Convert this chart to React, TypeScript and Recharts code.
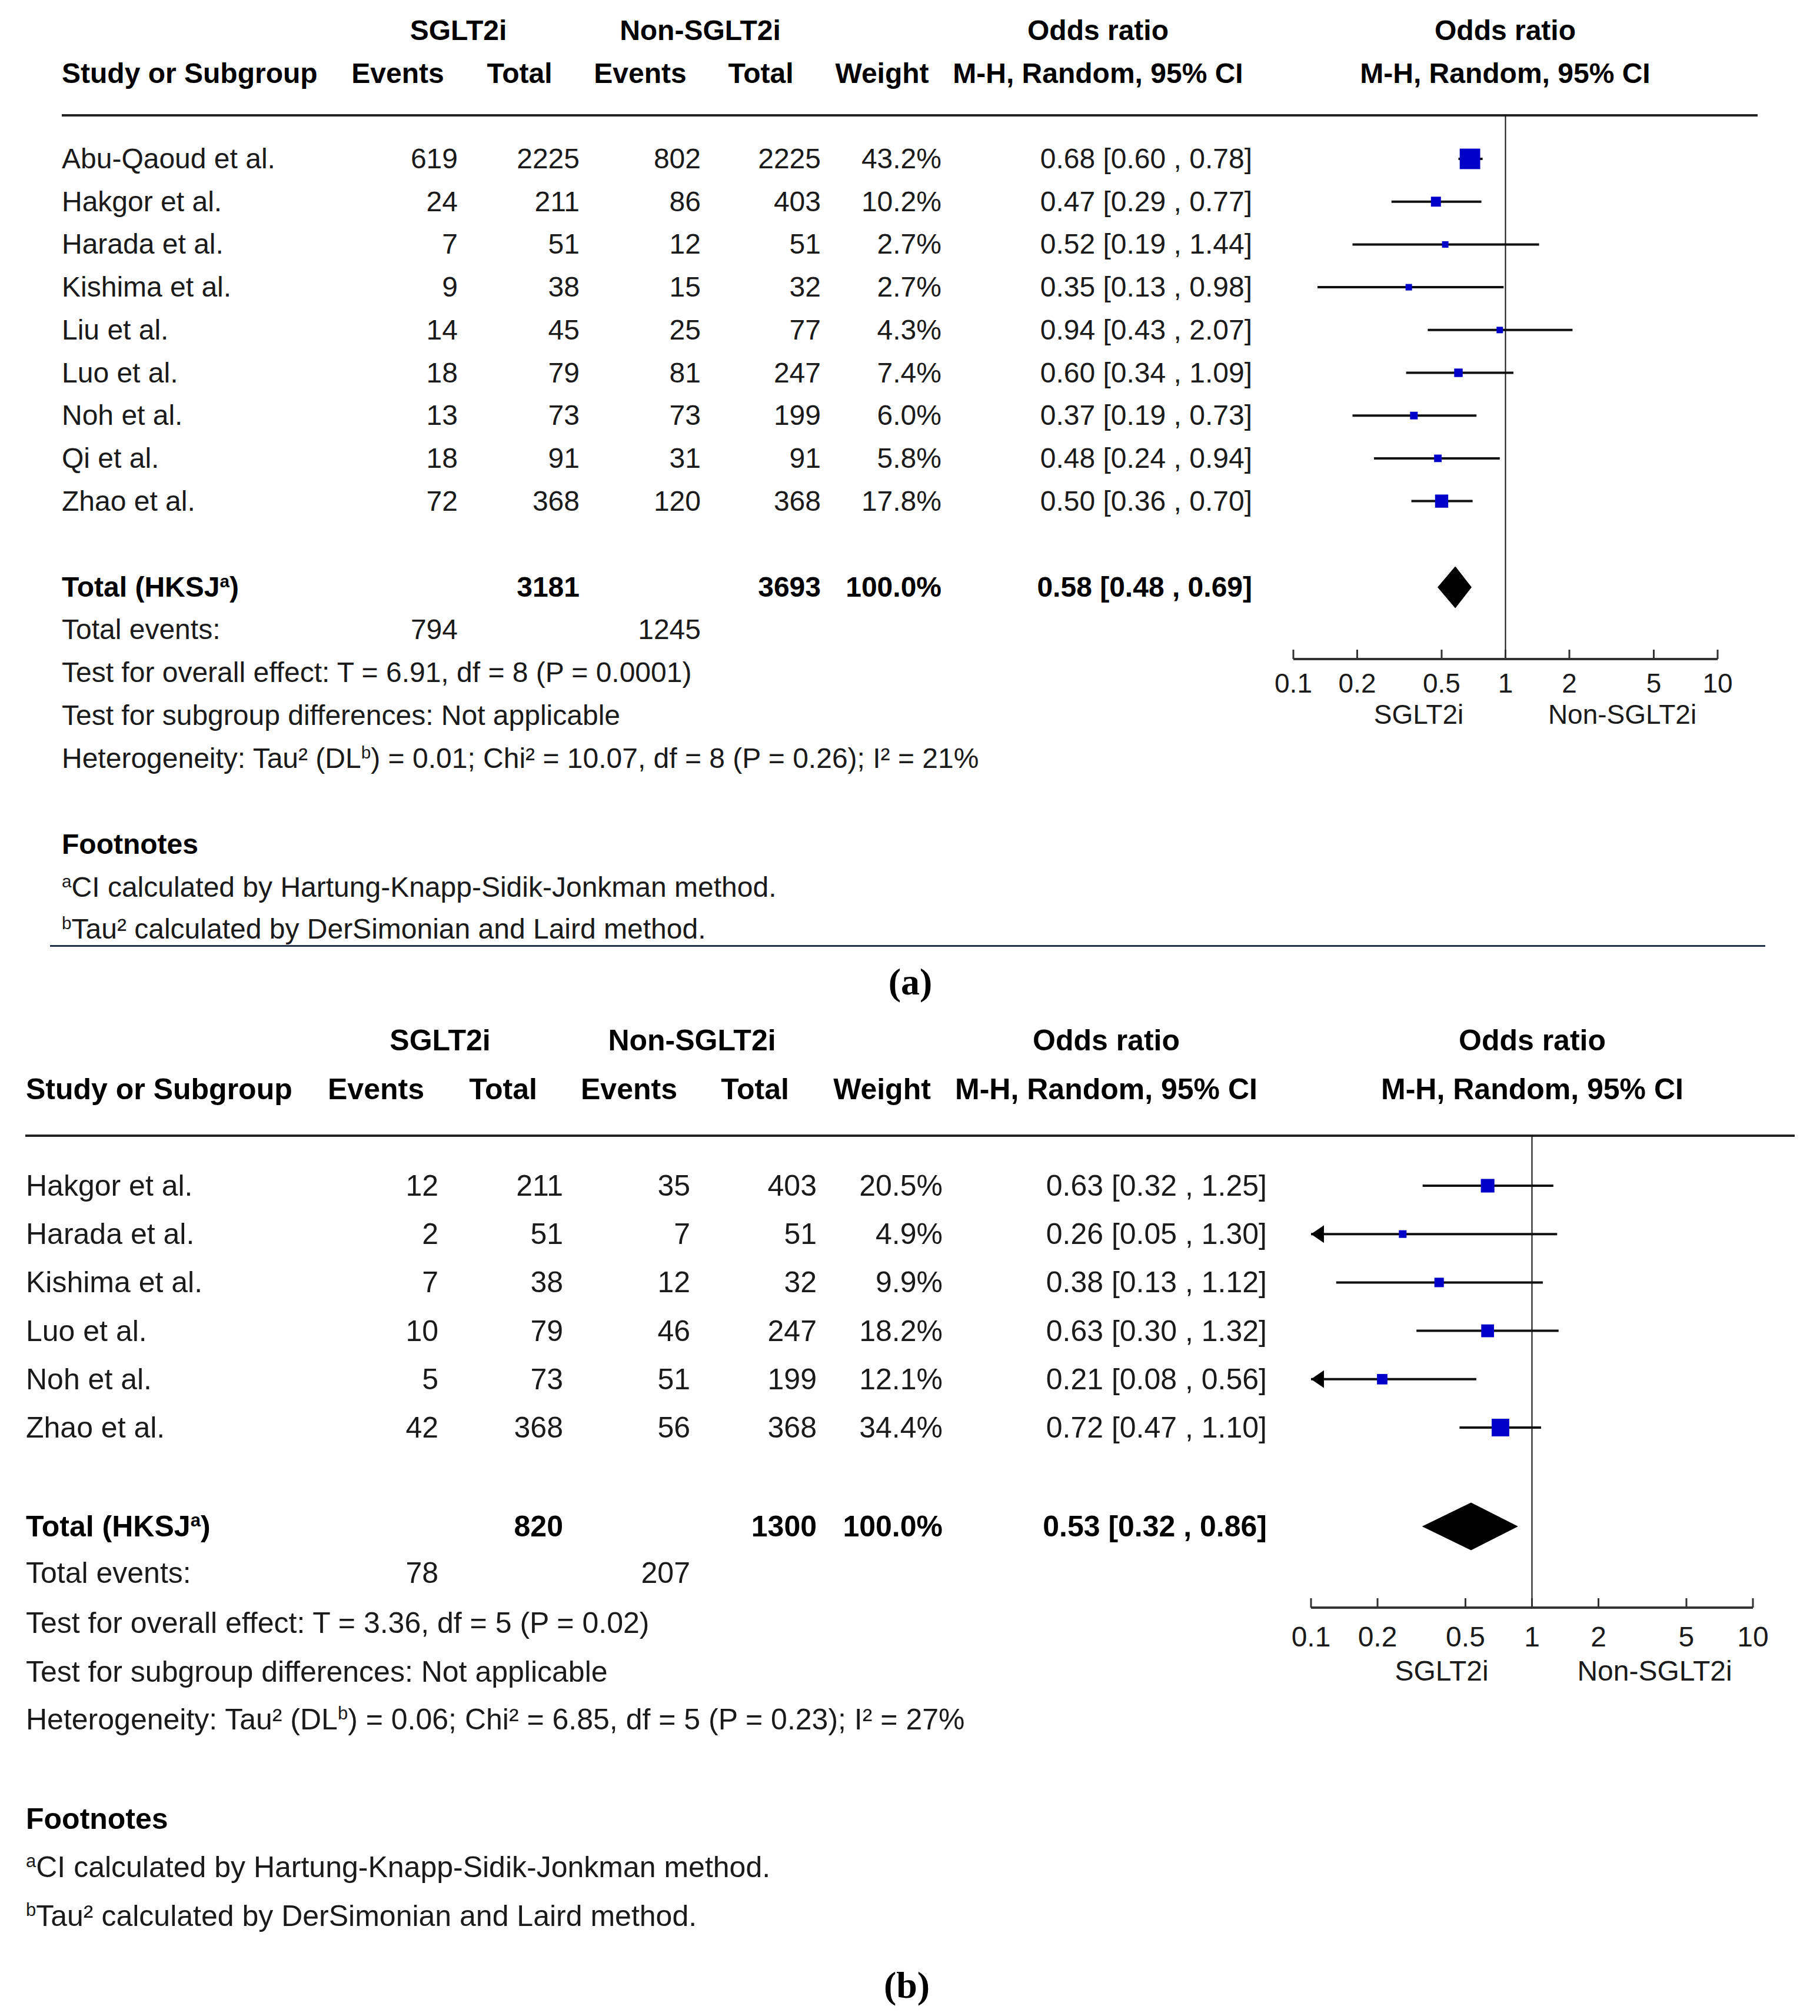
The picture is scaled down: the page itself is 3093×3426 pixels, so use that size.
import React from 'react';
import { ScatterChart, Scatter, XAxis, YAxis, ReferenceLine } from 'recharts';

const FONT = '"Liberation Sans", Arial, sans-serif';
const SERIF = '"Liberation Serif", "Times New Roman", serif';
const INK = '#1a1a1a';
const BLUE = '#0000c8';

const OR_TICKS = [0.1, 0.2, 0.5, 1, 2, 5, 10];
const SIDE_LABELS = ['SGLT2i', 'Non-SGLT2i'];
const HEAD_GROUPS = ['SGLT2i', 'Non-SGLT2i', 'Odds ratio', 'Odds ratio'];
const HEAD_COLS = ['Study or Subgroup', 'Events', 'Total', 'Events', 'Total', 'Weight', 'M-H, Random, 95% CI', 'M-H, Random, 95% CI'];
const FOOTNOTES = ['^aCI calculated by Hartung-Knapp-Sidik-Jonkman method.', '^bTau² calculated by DerSimonian and Laird method.'];

// panel (a)
const STUDIES_A = ['Abu-Qaoud et al.', 'Hakgor et al.', 'Harada et al.', 'Kishima et al.', 'Liu et al.', 'Luo et al.', 'Noh et al.', 'Qi et al.', 'Zhao et al.'];
const SGLT_EVENTS_A = [619, 24, 7, 9, 14, 18, 13, 18, 72];
const SGLT_TOTAL_A = [2225, 211, 51, 38, 45, 79, 73, 91, 368];
const NON_EVENTS_A = [802, 86, 12, 15, 25, 81, 73, 31, 120];
const NON_TOTAL_A = [2225, 403, 51, 32, 77, 247, 199, 91, 368];
const WEIGHT_A = [43.2, 10.2, 2.7, 2.7, 4.3, 7.4, 6.0, 5.8, 17.8];
const OR_A = [0.68, 0.47, 0.52, 0.35, 0.94, 0.6, 0.37, 0.48, 0.5];
const LO_A = [0.6, 0.29, 0.19, 0.13, 0.43, 0.34, 0.19, 0.24, 0.36];
const HI_A = [0.78, 0.77, 1.44, 0.98, 2.07, 1.09, 0.73, 0.94, 0.7];
const POOLED_A = [0.58, 0.48, 0.69];
const TOTALS_A = [3181, 3693];
const EVENT_SUMS_A = [794, 1245];
const STATS_A = [
  'Test for overall effect: T = 6.91, df = 8 (P = 0.0001)',
  'Test for subgroup differences: Not applicable',
  'Heterogeneity: Tau² (DL^b) = 0.01; Chi² = 10.07, df = 8 (P = 0.26); I² = 21%',
];

// panel (b)
const STUDIES_B = ['Hakgor et al.', 'Harada et al.', 'Kishima et al.', 'Luo et al.', 'Noh et al.', 'Zhao et al.'];
const SGLT_EVENTS_B = [12, 2, 7, 10, 5, 42];
const SGLT_TOTAL_B = [211, 51, 38, 79, 73, 368];
const NON_EVENTS_B = [35, 7, 12, 46, 51, 56];
const NON_TOTAL_B = [403, 51, 32, 247, 199, 368];
const WEIGHT_B = [20.5, 4.9, 9.9, 18.2, 12.1, 34.4];
const OR_B = [0.63, 0.26, 0.38, 0.63, 0.21, 0.72];
const LO_B = [0.32, 0.05, 0.13, 0.3, 0.08, 0.47];
const HI_B = [1.25, 1.3, 1.12, 1.32, 0.56, 1.1];
const POOLED_B = [0.53, 0.32, 0.86];
const TOTALS_B = [820, 1300];
const EVENT_SUMS_B = [78, 207];
const STATS_B = [
  'Test for overall effect: T = 3.36, df = 5 (P = 0.02)',
  'Test for subgroup differences: Not applicable',
  'Heterogeneity: Tau² (DL^b) = 0.06; Chi² = 6.85, df = 5 (P = 0.23); I² = 27%',
];

const LAYOUT_A = {
  fs: 48, axisFs: 46, head1: 52, head2: 125, lineY: 196, lineX0: 105, lineX1: 2987,
  studyX: 105, right: [778, 985, 1191, 1395, 1600, 2128],
  heads: [676, 883, 1088, 1293, 1499, 1866, 2558], groups: [779, 1190, 1866, 2558],
  rowY0: 270, rowStep: 72.7, totalY: 998, eventsY: 1070, statsY: [1143, 1216, 1289],
  footY: 1435, fnY: [1508, 1579], x01: 2198, x10: 2919, axisY: 1120, tickY: 1161,
  sideY: 1214, sideX: [2411, 2757], tag: '(a)', tagX: 1547, tagY: 1669,
  diamondHalf: 35, sqK: 5.3, sqMin: 11, bottomLine: [1607, 85, 3000],
};

const LAYOUT_B = {
  fs: 50, axisFs: 48, head1: 1768, head2: 1851, lineY: 1930, lineX0: 43, lineX1: 3050,
  studyX: 44, right: [745, 957, 1173, 1388, 1602, 2153],
  heads: [639, 855, 1069, 1283, 1499, 1880, 2604], groups: [748, 1176, 1880, 2604],
  rowY0: 2015, rowStep: 82.2, totalY: 2594, eventsY: 2673, statsY: [2758, 2841, 2922],
  footY: 3091, fnY: [3173, 3256], x01: 2228, x10: 2979, axisY: 2732, tickY: 2781,
  sideY: 2840, sideX: [2450, 2812], tag: '(b)', tagX: 1541, tagY: 3374,
  diamondHalf: 40, sqK: 5.1, sqMin: 13, bottomLine: null as null | number[],
};

function rich(s: string) {
  return s.split(/\^(\w)/).map((p, i) =>
    i % 2 ? (
      <span key={i} style={{ fontSize: '0.62em', position: 'relative', top: '-0.55em' }}>{p}</span>
    ) : (
      <React.Fragment key={i}>{p}</React.Fragment>
    )
  );
}

function Txt({ x, y, size, anchor = 'start', bold = false, children }: any) {
  const tx = anchor === 'start' ? '0' : anchor === 'middle' ? '-50%' : '-100%';
  return (
    <div
      style={{
        position: 'absolute', left: x, top: y, transform: `translate(${tx}, -50%)`,
        fontSize: size, fontWeight: bold ? 700 : 400, lineHeight: 1, whiteSpace: 'nowrap',
        color: bold ? '#000' : INK, fontFamily: FONT,
      }}
    >
      {children}
    </div>
  );
}

function Panel({ L, studies, ev1, tot1, ev2, tot2, w, or, lo, hi, pooled, totals, sums, stats }: any) {
  const fmt = (v: number, l: number, h: number) => `${v.toFixed(2)} [${l.toFixed(2)} , ${h.toFixed(2)}]`;
  const rowY = (i: number) => L.rowY0 + i * L.rowStep;

  // forest plot geometry in row units
  const padX = 90;
  const plotH = L.axisY - L.lineY;
  const yMax = plotH / L.rowStep;
  const rowOff = (L.rowY0 - L.lineY) / L.rowStep;
  const totRow = (L.totalY - L.lineY) / L.rowStep;
  const half = L.diamondHalf / L.rowStep;

  const points = or.map((v: number, i: number) => ({ x: v, y: rowOff + i, w: w[i] }));
  const ciLines = or.map((_: number, i: number) => [
    { x: Math.max(lo[i], 0.1), y: rowOff + i },
    { x: Math.min(hi[i], 10), y: rowOff + i },
  ]);
  const arrows = points.filter((_: any, i: number) => lo[i] < 0.1).map((p: any) => ({ x: 0.1, y: p.y }));
  const diamond = [
    { x: pooled[1], y: totRow },
    { x: pooled[0], y: totRow - half },
    { x: pooled[2], y: totRow },
    { x: pooled[0], y: totRow + half },
    { x: pooled[1], y: totRow },
  ];
  const labelDy = L.tickY - L.axisY + 0.35 * L.axisFs;

  const renderTick = (p: any) => (
    <g>
      <line x1={p.x} x2={p.x} y1={p.y - 16} y2={p.y} stroke="#333" strokeWidth={3} />
      <text x={p.x} y={p.y + labelDy} textAnchor="middle" fontSize={L.axisFs} fill={INK} fontFamily={FONT}>
        {String(p.payload.value)}
      </text>
    </g>
  );

  const cols = [ev1, tot1, ev2, tot2];

  return (
    <>
      {/* headers */}
      {HEAD_GROUPS.map((h, i) => (
        <Txt key={'g' + i} x={L.groups[i]} y={L.head1} size={L.fs} anchor="middle" bold>{h}</Txt>
      ))}
      <Txt x={L.studyX} y={L.head2} size={L.fs} bold>{HEAD_COLS[0]}</Txt>
      {HEAD_COLS.slice(1).map((h, i) => (
        <Txt key={'h' + i} x={L.heads[i]} y={L.head2} size={L.fs} anchor="middle" bold>{h}</Txt>
      ))}
      <div style={{ position: 'absolute', left: L.lineX0, top: L.lineY - 2, width: L.lineX1 - L.lineX0, height: 4, background: '#222' }} />

      {/* study rows */}
      {studies.map((s: string, i: number) => (
        <React.Fragment key={s}>
          <Txt x={L.studyX} y={rowY(i)} size={L.fs}>{s}</Txt>
          {cols.map((c: number[], j: number) => (
            <Txt key={j} x={L.right[j]} y={rowY(i)} size={L.fs} anchor="end">{c[i]}</Txt>
          ))}
          <Txt x={L.right[4]} y={rowY(i)} size={L.fs} anchor="end">{w[i].toFixed(1)}%</Txt>
          <Txt x={L.right[5]} y={rowY(i)} size={L.fs} anchor="end">{fmt(or[i], lo[i], hi[i])}</Txt>
        </React.Fragment>
      ))}

      {/* totals */}
      <Txt x={L.studyX} y={L.totalY} size={L.fs} bold>{rich('Total (HKSJ^a)')}</Txt>
      <Txt x={L.right[1]} y={L.totalY} size={L.fs} anchor="end" bold>{totals[0]}</Txt>
      <Txt x={L.right[3]} y={L.totalY} size={L.fs} anchor="end" bold>{totals[1]}</Txt>
      <Txt x={L.right[4]} y={L.totalY} size={L.fs} anchor="end" bold>100.0%</Txt>
      <Txt x={L.right[5]} y={L.totalY} size={L.fs} anchor="end" bold>{fmt(pooled[0], pooled[1], pooled[2])}</Txt>
      <Txt x={L.studyX} y={L.eventsY} size={L.fs}>Total events:</Txt>
      <Txt x={L.right[0]} y={L.eventsY} size={L.fs} anchor="end">{sums[0]}</Txt>
      <Txt x={L.right[2]} y={L.eventsY} size={L.fs} anchor="end">{sums[1]}</Txt>
      {stats.map((s: string, i: number) => (
        <Txt key={'s' + i} x={L.studyX} y={L.statsY[i]} size={L.fs}>{rich(s)}</Txt>
      ))}
      <Txt x={L.studyX} y={L.footY} size={L.fs} bold>Footnotes</Txt>
      {FOOTNOTES.map((f, i) => (
        <Txt key={'f' + i} x={L.studyX} y={L.fnY[i]} size={L.fs}>{rich(f)}</Txt>
      ))}
      {L.bottomLine && (
        <div style={{ position: 'absolute', left: L.bottomLine[1], top: L.bottomLine[0] - 1.5, width: L.bottomLine[2] - L.bottomLine[1], height: 3, background: '#22304a' }} />
      )}

      {/* forest plot */}
      <div style={{ position: 'absolute', left: L.x01 - padX, top: L.lineY }}>
        <ScatterChart
          width={L.x10 - L.x01 + 2 * padX}
          height={plotH + 110}
          margin={{ top: 0, right: padX, bottom: 0, left: padX }}
        >
          <XAxis
            type="number"
            dataKey="x"
            scale="log"
            domain={[0.1, 10]}
            ticks={OR_TICKS}
            allowDataOverflow
            height={110}
            tickSize={0}
            tickMargin={0}
            tickLine={false}
            axisLine={{ stroke: '#333', strokeWidth: 4 }}
            tick={renderTick}
            interval={0}
          />
          <YAxis type="number" dataKey="y" domain={[0, yMax]} reversed hide allowDataOverflow />
          <ReferenceLine x={1} stroke="#111" strokeWidth={2} />
          {ciLines.map((seg: any[], i: number) => (
            <Scatter
              key={'ci' + i}
              data={seg}
              line={{ stroke: '#111', strokeWidth: 4 }}
              shape={() => <g />}
              isAnimationActive={false}
            />
          ))}
          <Scatter
            data={arrows}
            isAnimationActive={false}
            shape={(p: any) => (
              <polygon points={`${p.cx},${p.cy} ${p.cx + 22},${p.cy - 15} ${p.cx + 22},${p.cy + 15}`} fill="#000" />
            )}
          />
          <Scatter
            data={points}
            isAnimationActive={false}
            shape={(p: any) => {
              const s = Math.max(L.sqMin, L.sqK * Math.sqrt(p.payload.w));
              return <rect x={p.cx - s / 2} y={p.cy - s / 2} width={s} height={s} fill={BLUE} />;
            }}
          />
          <Scatter
            data={diamond}
            isAnimationActive={false}
            line={{ stroke: '#000', strokeWidth: 1, fill: '#000' }}
            shape={() => <g />}
          />
        </ScatterChart>
      </div>
      {SIDE_LABELS.map((s, i) => (
        <Txt key={'d' + i} x={L.sideX[i]} y={L.sideY} size={L.axisFs} anchor="middle">{s}</Txt>
      ))}

      <div
        style={{
          position: 'absolute', left: L.tagX, top: L.tagY, transform: 'translate(-50%, -50%)',
          fontFamily: SERIF, fontWeight: 700, fontSize: 64, lineHeight: 1, color: '#000',
        }}
      >
        {L.tag}
      </div>
    </>
  );
}

export default function App() {
  return (
    <div style={{ position: 'absolute', left: 0, top: 0, width: 3093, height: 3426, background: '#fff', overflow: 'hidden' }}>
      <Panel
        L={LAYOUT_A}
        studies={STUDIES_A}
        ev1={SGLT_EVENTS_A}
        tot1={SGLT_TOTAL_A}
        ev2={NON_EVENTS_A}
        tot2={NON_TOTAL_A}
        w={WEIGHT_A}
        or={OR_A}
        lo={LO_A}
        hi={HI_A}
        pooled={POOLED_A}
        totals={TOTALS_A}
        sums={EVENT_SUMS_A}
        stats={STATS_A}
      />
      <Panel
        L={LAYOUT_B}
        studies={STUDIES_B}
        ev1={SGLT_EVENTS_B}
        tot1={SGLT_TOTAL_B}
        ev2={NON_EVENTS_B}
        tot2={NON_TOTAL_B}
        w={WEIGHT_B}
        or={OR_B}
        lo={LO_B}
        hi={HI_B}
        pooled={POOLED_B}
        totals={TOTALS_B}
        sums={EVENT_SUMS_B}
        stats={STATS_B}
      />
    </div>
  );
}
